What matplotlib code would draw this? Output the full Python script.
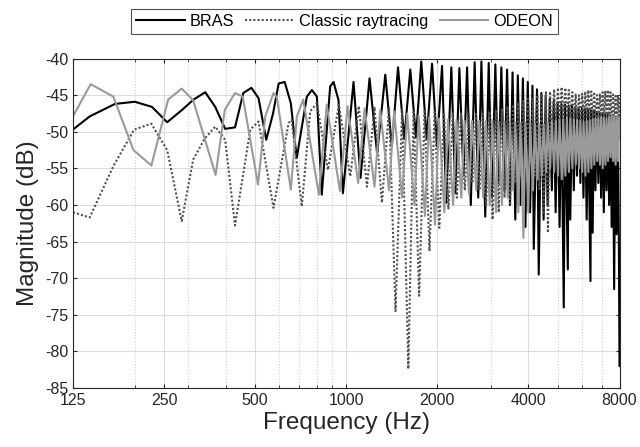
import matplotlib.pyplot as plt
import numpy as np

plt.rcParams['font.family'] = ['Liberation Sans', 'DejaVu Sans']
plt.rcParams['axes.unicode_minus'] = False

# BRAS (vertices at low freq, then peak/dip pairs)
bras_freq = [125, 142, 172, 200, 228, 256, 287, 313, 342, 369, 398, 429, 457, 486, 513,
             544, 573, 598, 626, 656, 686, 741, 770, 800, 830, 885, 908, 943, 975,
             1057, 1115, 1194, 1265, 1346, 1415, 1483, 1555, 1628, 1700, 1770, 1845,
             1921, 1995, 2073, 2140, 2225, 2294, 2365, 2440, 2508, 2580, 2657, 2730,
             2797, 2880, 2957, 3030, 3110, 3180, 3255, 3330, 3400, 3475, 3545, 3620,
             3690, 3765, 3835, 3910, 3980, 4050, 4125, 4166, 4270, 4326, 4415, 4490,
             4560, 4630, 4705, 4780, 4850, 4920, 4995, 5070, 5140, 5234, 5285, 5398,
             5430, 5500, 5575, 5650, 5720, 5790, 5865, 5940, 6010, 6080, 6155, 6230,
             6300, 6414, 6445, 6520, 6590, 6660, 6735, 6810, 6880, 6955, 7025, 7100,
             7170, 7245, 7315, 7390, 7460, 7535, 7605, 7680, 7750, 7825, 7895, 7960, 8000]
bras_db = [-49.7, -47.9, -46.2, -45.9, -46.6, -48.7, -47.0, -45.6, -44.6, -46.6, -49.6, -49.4,
           -44.7, -44.0, -45.4, -51.1, -47.5, -43.4, -43.2, -46.1, -53.6, -45.2, -44.3, -45.2,
           -58.6, -43.8, -43.2, -45.7, -58.4,
           -43.2, -56.3, -42.7, -53.0, -42.2, -52.0, -41.2, -51.0, -41.5, -50.8, -40.4, -51.0,
           -40.7, -52.0, -41.0, -59.7, -41.2, -58.4, -41.3, -56.0, -41.2, -60.0, -40.5, -59.0,
           -40.4, -61.6, -40.6, -59.0, -40.8, -57.0, -41.2, -58.0, -41.5, -60.0, -41.9, -62.0,
           -42.3, -60.0, -42.7, -63.0, -43.2, -61.0, -43.7, -66.0, -44.2, -69.5, -44.7, -62.0,
           -45.1, -60.0, -45.5, -58.0, -45.8, -61.0, -46.0, -63.0, -46.2, -74.0, -46.3, -68.8,
           -46.4, -62.0, -46.5, -58.0, -46.6, -56.0, -46.7, -57.0, -46.8, -59.0, -46.9, -62.0,
           -47.0, -70.4, -47.1, -63.8, -47.2, -58.0, -47.3, -57.0, -47.4, -59.0, -47.5, -61.0,
           -47.6, -58.0, -47.7, -60.0, -47.8, -63.0, -47.9, -71.5, -48.0, -64.0, -48.1, -65.0, -82.0]

# Classic raytracing
classic_freq = [125, 142, 170, 199, 227, 256, 286, 312, 341, 369, 398, 429, 482, 513, 575,
                645, 660, 713, 760, 800, 870, 945, 1031, 1100, 1171, 1240, 1312, 1385, 1455,
                1530, 1604, 1670, 1741, 1815, 1884, 1960, 2030, 2105, 2176, 2250, 2320, 2395,
                2465, 2540, 2610, 2685, 2755, 2830, 2900, 2975, 3045, 3120, 3190, 3265, 3335,
                3410, 3480, 3555, 3625, 3700, 3770, 3845, 3915, 3990, 4060, 4135, 4205, 4280,
                4350, 4425, 4495, 4570, 4640, 4715, 4785, 4860, 4930, 5005, 5075, 5150, 5220,
                5295, 5365, 5440, 5510, 5585, 5655, 5730, 5800, 5875, 5945, 6020, 6090, 6165,
                6235, 6310, 6380, 6455, 6525, 6600, 6670, 6745, 6815, 6890, 6960, 7035, 7105,
                7180, 7250, 7325, 7395, 7470, 7540, 7615, 7685, 7760, 7830, 7905, 7975, 8000]
classic_db = [-61.0, -61.7, -54.7, -49.7, -48.9, -52.5, -62.2, -53.8, -50.9, -49.3, -51.1, -62.8,
              -49.7, -48.6, -60.4, -48.8, -48.4, -60.2, -47.2, -46.1, -55.2, -46.3, -56.1, -46.5,
              -57.5, -46.6, -59.7, -46.8, -74.5, -47.0, -82.4, -47.1, -72.4, -47.2, -66.3, -47.3,
              -63.1, -47.4, -60.6, -47.5, -59.0, -47.5, -58.0, -47.6, -57.0, -47.6, -58.0, -47.5,
              -60.0, -47.2, -62.0, -47.0, -61.0, -46.8, -59.0, -46.5, -60.0, -46.3, -57.0, -46.0,
              -56.0, -45.8, -55.0, -45.5, -54.0, -45.3, -56.0, -45.0, -58.0, -44.8, -61.0, -44.6,
              -63.8, -44.5, -52.0, -44.2, -49.0, -44.0, -48.5, -43.9, -48.2, -44.0, -48.0, -44.3,
              -48.4, -44.6, -48.8, -44.9, -48.9, -45.0, -48.6, -44.8, -48.2, -44.5, -48.0, -44.3,
              -48.3, -44.5, -48.6, -44.8, -48.9, -45.0, -48.7, -44.9, -48.4, -44.6, -48.1, -44.4,
              -48.0, -44.3, -48.3, -44.6, -48.7, -44.9, -49.0, -45.1, -48.8, -45.0, -48.6, -45.2]

# ODEON
odeon_freq = [125, 143, 170, 198, 227, 258, 286, 312, 370, 397, 429, 455, 511, 540, 575,
              590, 656, 687, 721, 812, 862, 953, 1010, 1095, 1150, 1240, 1295, 1385, 1440,
              1530, 1590, 1680, 1735, 1820, 1880, 1965, 2025, 2110, 2170, 2255, 2315, 2400,
              2460, 2545, 2605, 2690, 2750, 2835, 2895, 2980, 3040, 3125, 3185, 3270, 3330,
              3415, 3475, 3560, 3620, 3705, 3765, 3850, 3910, 3995, 4055, 4140, 4200, 4285,
              4345, 4430, 4490, 4575, 4635, 4720, 4780, 4865, 4925, 5010, 5070, 5155, 5215,
              5300, 5360, 5445, 5505, 5590, 5650, 5735, 5795, 5880, 5940, 6025, 6085, 6170,
              6230, 6315, 6375, 6460, 6520, 6605, 6665, 6750, 6810, 6895, 6955, 7040, 7100,
              7185, 7245, 7330, 7390, 7475, 7535, 7620, 7680, 7765, 7825, 7910, 7970, 8000]
odeon_db = [-47.9, -43.5, -45.2, -52.5, -54.6, -45.6, -44.1, -45.7, -55.9, -47.0, -44.7, -45.2,
            -57.2, -47.9, -44.7, -45.3, -57.9, -47.9, -45.6, -58.6, -46.3, -58.1, -46.5, -57.0,
            -46.8, -57.5, -47.0, -58.0, -47.2, -59.0, -47.5, -60.0, -47.8, -61.5, -48.0, -62.7,
            -48.2, -61.0, -48.3, -60.0, -48.4, -59.0, -48.5, -58.5, -48.5, -58.0, -48.5, -59.0,
            -48.5, -60.0, -48.5, -61.0, -48.6, -60.0, -48.6, -59.0, -48.7, -58.0, -48.7, -61.0,
            -48.8, -64.5, -48.8, -61.0, -48.9, -58.0, -48.9, -56.5, -49.0, -56.0, -49.0, -55.5,
            -48.8, -55.0, -48.6, -55.5, -48.5, -56.0, -48.4, -56.5, -48.3, -56.0, -48.2, -55.5,
            -48.2, -55.0, -48.3, -54.5, -48.4, -55.0, -48.5, -55.5, -48.6, -56.0, -48.5, -55.5,
            -48.4, -55.0, -48.3, -54.5, -48.2, -54.0, -48.1, -54.5, -48.0, -55.0, -48.1, -54.5,
            -48.2, -54.0, -48.0, -53.5, -47.8, -54.0, -47.9, -54.5, -48.0, -54.0, -48.1, -51.0]

xticks = [125, 250, 500, 1000, 2000, 4000, 8000]
minor_xticks = [200, 300, 400, 600, 700, 800, 900, 3000, 5000, 6000, 7000]
yticks = np.arange(-85, -39, 5)

fig = plt.figure(figsize=(6.4, 4.47), dpi=100)
ax = fig.add_axes([0.114, 0.132, 0.854, 0.737])

ax.plot(bras_freq, bras_db, color='black', lw=1.5, label='BRAS')
ax.plot(classic_freq, classic_db, color='#505050', lw=1.5, ls=(0, (1, 1)), label='Classic raytracing')
ax.plot(odeon_freq, odeon_db, color='#9a9a9a', lw=1.5, label='ODEON')

ax.set_xscale('log')
ax.set_xlim(125, 8000)
ax.set_ylim(-85, -40)
ax.set_xticks(xticks)
ax.set_xticklabels([str(t) for t in xticks])
ax.set_xticks(minor_xticks, minor=True)
ax.set_xticklabels([], minor=True)
ax.set_yticks(yticks)
ax.grid(True, which='major', color='#dcdcdc', lw=0.8)
ax.grid(True, which='minor', axis='x', color='#c8c8c8', lw=0.7, ls=(0, (1, 2)))
ax.set_axisbelow(True)

ax.tick_params(which='both', direction='in', top=True, right=True, colors='#262626',
               labelsize=11.5, length=3)
ax.tick_params(which='minor', length=2)
for s in ax.spines.values():
    s.set_color('#262626')
    s.set_linewidth(0.8)

ax.set_xlabel('Frequency (Hz)', fontsize=17.5, color='#262626', labelpad=3)
ax.set_ylabel('Magnitude (dB)', fontsize=17.5, color='#262626', labelpad=4)

leg = fig.legend(loc='center', bbox_to_anchor=(0.538, 0.952), ncol=3, fontsize=11.7,
                 frameon=True, fancybox=False, edgecolor='#262626', handlelength=3.0,
                 handletextpad=0.3, columnspacing=0.7, borderpad=0.3, borderaxespad=0)
leg.get_frame().set_linewidth(0.8)

fig.savefig('out.png', dpi=100)
